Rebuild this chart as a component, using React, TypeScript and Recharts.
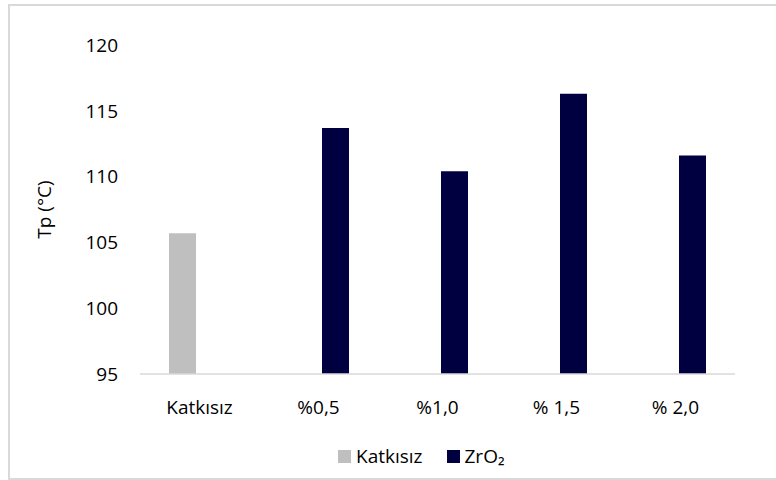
import { BarChart, Bar, XAxis, YAxis, Legend } from "recharts";

// Tp (°C) — katkısız numune ve ZrO2 katkılı numuneler

const categories = ["Katkısız", "%0,5", "%1,0", "% 1,5", "% 2,0"];
const katkisizValues = [105.7, null, null, null, null];
const zro2Values = [null, 113.7, 110.4, 116.3, 111.6];
const yTicks = [95, 100, 105, 110, 115, 120];

const data = categories.map((label, i) => ({
  label,
  katkisiz: katkisizValues[i],
  zro2: zro2Values[i],
}));

const FONT = "'Open Sans', sans-serif";
const GRAY = "#bfbfbf";
const NAVY = "#000040";

function LegendBox() {
  const items = [
    { name: "Katkısız", color: GRAY },
    { name: "ZrO₂", color: NAVY },
  ];
  return (
    <div style={{ display: "flex", alignItems: "center", fontFamily: FONT, fontSize: 19, lineHeight: "26px", color: "#000" }}>
      {items.map((it, i) => (
        <div key={it.name} style={{ display: "flex", alignItems: "center", marginLeft: i === 0 ? 0 : 24 }}>
          <span style={{ width: 13, height: 13, background: it.color, display: "inline-block", marginRight: 5 }} />
          <span>{it.name}</span>
        </div>
      ))}
    </div>
  );
}

export default function App() {
  const tick = { fill: "#000", fontSize: 19, fontFamily: FONT };
  return (
    <div style={{ position: "absolute", left: 0, top: 0, width: 776, height: 480, background: "#fff", overflow: "hidden" }}>
      <div
        style={{
          position: "absolute",
          left: 8,
          top: 4,
          width: 800,
          height: 472,
          border: "2px solid #d9d9d9",
        }}
      />
      <div style={{ position: "absolute", left: 0, top: 0 }}>
        <BarChart
          width={776}
          height={480}
          data={data}
          margin={{ top: 45, right: 41, left: 20, bottom: 50 }}
          barSize={27}
          barGap={7}
        >
          <XAxis
            dataKey="label"
            tick={tick}
            tickLine={false}
            tickSize={0}
            tickMargin={27}
            height={30}
            axisLine={{ stroke: "#d9d9d9", strokeWidth: 1.5 }}
          />
          <YAxis
            domain={[95, 120]}
            ticks={yTicks}
            width={120}
            tick={tick}
            tickLine={false}
            tickSize={0}
            tickMargin={22}
            axisLine={false}
            label={{
              value: "Tp (°C)",
              angle: -90,
              position: "insideLeft",
              offset: 24,
              style: { textAnchor: "middle", fill: "#000", fontSize: 19, fontFamily: FONT },
            }}
          />
          <Legend
            content={<LegendBox />}
            wrapperStyle={{ position: "absolute", left: 338, top: 443, width: "auto" }}
          />
          <Bar dataKey="katkisiz" name="Katkısız" fill={GRAY} isAnimationActive={false} />
          <Bar dataKey="zro2" name="ZrO₂" fill={NAVY} isAnimationActive={false} />
        </BarChart>
      </div>
    </div>
  );
}
